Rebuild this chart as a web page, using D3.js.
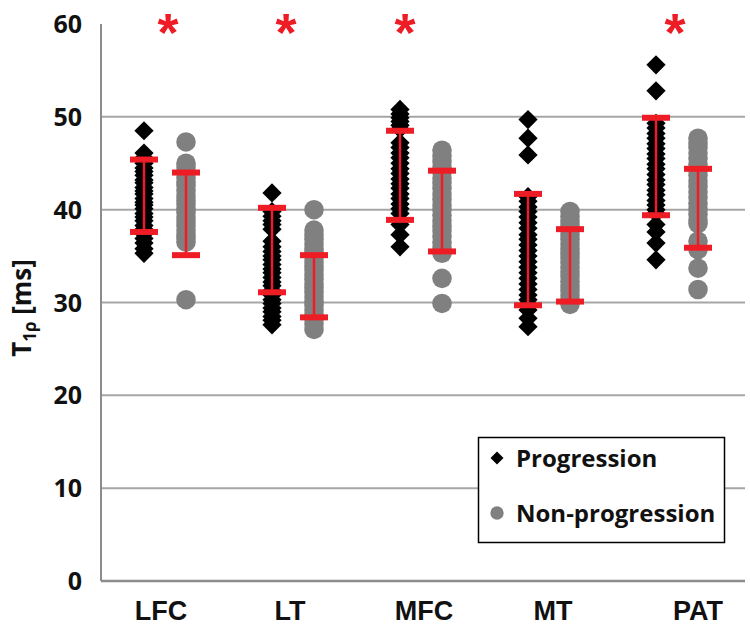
<!DOCTYPE html>
<html>
<head>
<meta charset="utf-8">
<script src="https://cdn.jsdelivr.net/npm/d3@7"></script>
<style>
  body { margin: 0; background: #fff; }
  svg { display: block; }
</style>
</head>
<body>
<svg id="chart" width="750" height="630"></svg>
<script>
var regions = ['LFC', 'LT', 'MFC', 'MT', 'PAT'];
var groups = ['Progression', 'Non-progression'];
var yTicks = [0, 10, 20, 30, 40, 50, 60];
var significant = ['LFC', 'LT', 'MFC', 'PAT'];

// individual T1rho values
var progression = {
  LFC: [48.5, 46.1, 45.6, 45.0, 44.5, 44.1, 43.7, 43.2, 42.9, 42.4, 42.0, 41.7, 41.2, 40.8, 40.5, 40.1, 39.6, 39.2, 38.8, 38.3, 37.9, 37.4, 36.9, 36.4, 35.8, 35.3],
  LT:  [41.8, 39.8, 39.3, 38.8, 38.4, 37.9, 36.6, 36.0, 35.5, 35.0, 34.6, 34.1, 33.6, 33.2, 32.7, 32.2, 31.8, 31.3, 30.8, 30.3, 29.9, 29.4, 29.0, 28.5, 28.1, 27.6],
  MFC: [50.8, 50.3, 49.9, 49.5, 49.1, 48.7, 47.2, 46.7, 46.1, 45.6, 45.0, 44.4, 43.9, 43.3, 42.8, 42.3, 41.7, 41.2, 40.6, 40.1, 39.6, 38.4, 37.3, 36.0],
  MT:  [49.7, 47.7, 45.9, 41.4, 40.9, 40.3, 39.8, 39.2, 38.6, 38.0, 37.3, 36.8, 36.2, 35.6, 35.0, 34.4, 33.8, 33.2, 32.6, 32.0, 31.4, 30.8, 30.3, 29.8, 29.2, 28.3, 27.4],
  PAT: [55.6, 52.8, 49.3, 48.8, 48.2, 47.7, 47.1, 46.6, 46.0, 45.5, 44.9, 44.4, 43.8, 43.2, 42.7, 42.1, 41.6, 41.0, 40.5, 40.0, 39.6, 38.4, 37.6, 36.4, 34.6]
};
var nonProgression = {
  LFC: [47.3, 45.0, 44.6, 44.1, 43.5, 43.0, 42.6, 42.1, 41.5, 41.0, 40.6, 40.1, 39.7, 39.2, 38.8, 38.3, 37.8, 37.3, 36.9, 36.5, 30.3],
  LT:  [40.0, 37.8, 37.3, 36.8, 36.3, 35.8, 35.4, 34.9, 34.4, 33.9, 33.5, 33.0, 32.5, 32.0, 31.6, 31.1, 30.6, 30.1, 29.7, 29.2, 28.7, 28.2, 27.7, 27.1],
  MFC: [46.4, 45.8, 45.2, 44.6, 44.0, 43.4, 42.9, 42.3, 41.7, 41.1, 40.5, 40.0, 39.4, 38.8, 38.2, 37.7, 37.1, 36.5, 35.9, 35.3, 32.6, 29.9],
  MT:  [39.8, 39.3, 38.8, 38.3, 37.8, 37.3, 36.8, 36.3, 35.8, 35.3, 34.8, 34.3, 33.8, 33.3, 32.8, 32.3, 31.8, 31.3, 30.8, 30.3, 29.8],
  PAT: [47.7, 47.2, 46.7, 46.1, 45.5, 44.9, 44.3, 43.7, 43.1, 42.5, 41.9, 41.3, 40.7, 40.1, 39.5, 38.9, 38.5, 36.6, 35.7, 33.7, 31.4]
};

// mean and SD (red error bars)
var meanP = [41.5, 35.65, 43.7, 35.7, 44.65];
var sdP   = [3.9, 4.55, 4.8, 6.0, 5.25];
var meanN = [39.55, 31.75, 39.85, 34.0, 40.15];
var sdN   = [4.45, 3.35, 4.35, 3.9, 4.25];

var svg = d3.select('#chart');
var red = '#ee1c25';
var grey = '#808080';
var calibriLike = '"Open Sans", Lato, sans-serif';

var x = d3.scaleBand().domain(regions).range([101, 741]);
var off = d3.scalePoint().domain(groups).range([-21, 21]);
var y = d3.scaleLinear().domain([0, 60]).range([581, 24]);

// the category labels in the original are not all centred on their column
var labelNudge = { LFC: -4, LT: -3, MFC: 3, MT: 4, PAT: 21 };

// gridlines
svg.append('g')
  .selectAll('line')
  .data(yTicks.filter(function(d) { return d > 0 && d < 60; }))
  .enter().append('line')
  .attr('x1', 101).attr('x2', 745)
  .attr('y1', function(d) { return y(d); })
  .attr('y2', function(d) { return y(d); })
  .attr('stroke', '#a6a6a6').attr('stroke-width', 2);

// axes lines
svg.append('line')
  .attr('x1', 101).attr('x2', 101).attr('y1', y(60)).attr('y2', y(0))
  .attr('stroke', '#8c8c8c').attr('stroke-width', 2);
svg.append('line')
  .attr('x1', 101).attr('x2', 745).attr('y1', y(0)).attr('y2', y(0))
  .attr('stroke', '#8c8c8c').attr('stroke-width', 2.5);

// y tick labels
svg.append('g')
  .selectAll('text')
  .data(yTicks)
  .enter().append('text')
  .attr('x', 82)
  .attr('y', function(d) { return y(d); })
  .attr('dy', '0.36em')
  .attr('text-anchor', 'end')
  .style('font-family', calibriLike)
  .style('font-weight', 'bold')
  .style('font-size', '25px')
  .attr('fill', '#111')
  .text(function(d) { return d; });

// category labels
svg.append('g')
  .selectAll('text')
  .data(regions)
  .enter().append('text')
  .attr('x', function(d) { return x(d) + x.bandwidth() / 2 + labelNudge[d]; })
  .attr('y', 620)
  .attr('text-anchor', 'middle')
  .style('font-family', '"Liberation Sans", Arial, sans-serif')
  .style('font-weight', 'bold')
  .style('font-size', '27px')
  .attr('fill', '#111')
  .text(function(d) { return d; });

// y axis title
var yt = svg.append('text')
  .attr('transform', 'translate(31,308) rotate(-90)')
  .attr('text-anchor', 'middle')
  .style('font-family', calibriLike)
  .style('font-weight', 'bold')
  .style('font-size', '26px')
  .attr('fill', '#111');
yt.append('tspan').text('T');
yt.append('tspan').attr('dy', 5).style('font-size', '17px').text('1ρ');
yt.append('tspan').attr('dy', -5).text(' [ms]');

// points
var diamond = d3.symbol().type(d3.symbolSquare).size(185);
var circle = d3.symbol().type(d3.symbolCircle).size(300);

var pts = [];
regions.forEach(function(r) {
  nonProgression[r].forEach(function(v) { pts.push({ region: r, group: 'Non-progression', value: v }); });
});
regions.forEach(function(r) {
  progression[r].forEach(function(v) { pts.push({ region: r, group: 'Progression', value: v }); });
});

svg.append('g')
  .selectAll('path')
  .data(pts)
  .enter().append('path')
  .attr('d', function(d) { return d.group === 'Progression' ? diamond() : circle(); })
  .attr('transform', function(d) {
    var cx = x(d.region) + x.bandwidth() / 2 + off(d.group);
    return 'translate(' + cx + ',' + y(d.value) + ')' + (d.group === 'Progression' ? ' rotate(45)' : '');
  })
  .attr('fill', function(d) { return d.group === 'Progression' ? '#000' : grey; });

// error bars
var bars = [];
regions.forEach(function(r, i) {
  bars.push({ region: r, group: 'Progression', mean: meanP[i], sd: sdP[i] });
  bars.push({ region: r, group: 'Non-progression', mean: meanN[i], sd: sdN[i] });
});

var eb = svg.append('g')
  .selectAll('g')
  .data(bars)
  .enter().append('g')
  .attr('transform', function(d) {
    return 'translate(' + (x(d.region) + x.bandwidth() / 2 + off(d.group)) + ',0)';
  });
eb.append('line')
  .attr('y1', function(d) { return y(d.mean + d.sd); })
  .attr('y2', function(d) { return y(d.mean - d.sd); })
  .attr('stroke', red).attr('stroke-width', 2.5);
eb.selectAll('rect')
  .data(function(d) { return [d.mean + d.sd, d.mean - d.sd]; })
  .enter().append('rect')
  .attr('x', -14).attr('width', 28)
  .attr('y', function(v) { return y(v) - 3; })
  .attr('height', 6)
  .attr('fill', red);

// significance asterisks
var starNudge = { LFC: 3, LT: -7, MFC: -16, PAT: -2 };
svg.append('g')
  .selectAll('text')
  .data(significant)
  .enter().append('text')
  .attr('x', function(d) { return x(d) + x.bandwidth() / 2 + starNudge[d]; })
  .attr('y', 51)
  .attr('text-anchor', 'middle')
  .style('font-family', '"Liberation Sans", Arial, sans-serif')
  .style('font-weight', 'bold')
  .style('font-size', '54px')
  .attr('fill', red)
  .text('*');

// legend
var lg = svg.append('g');
lg.append('rect')
  .attr('x', 478.5).attr('y', 437.5).attr('width', 246).attr('height', 105)
  .attr('fill', '#fff').attr('stroke', '#000').attr('stroke-width', 1.5);
var items = lg.selectAll('g.item')
  .data(groups)
  .enter().append('g')
  .attr('class', 'item')
  .attr('transform', function(d, i) { return 'translate(497,' + (458 + i * 55) + ')'; });
items.append('path')
  .attr('d', function(d) {
    return d === 'Progression' ? d3.symbol().type(d3.symbolSquare).size(85)() : d3.symbol().type(d3.symbolCircle).size(140)();
  })
  .attr('transform', function(d) { return d === 'Progression' ? 'rotate(45)' : null; })
  .attr('fill', function(d) { return d === 'Progression' ? '#000' : grey; });
items.append('text')
  .attr('x', 19)
  .attr('dy', '0.36em')
  .style('font-family', calibriLike)
  .style('font-weight', 'bold')
  .style('font-size', '24px')
  .attr('fill', '#111')
  .text(function(d) { return d; });
</script>
</body>
</html>
